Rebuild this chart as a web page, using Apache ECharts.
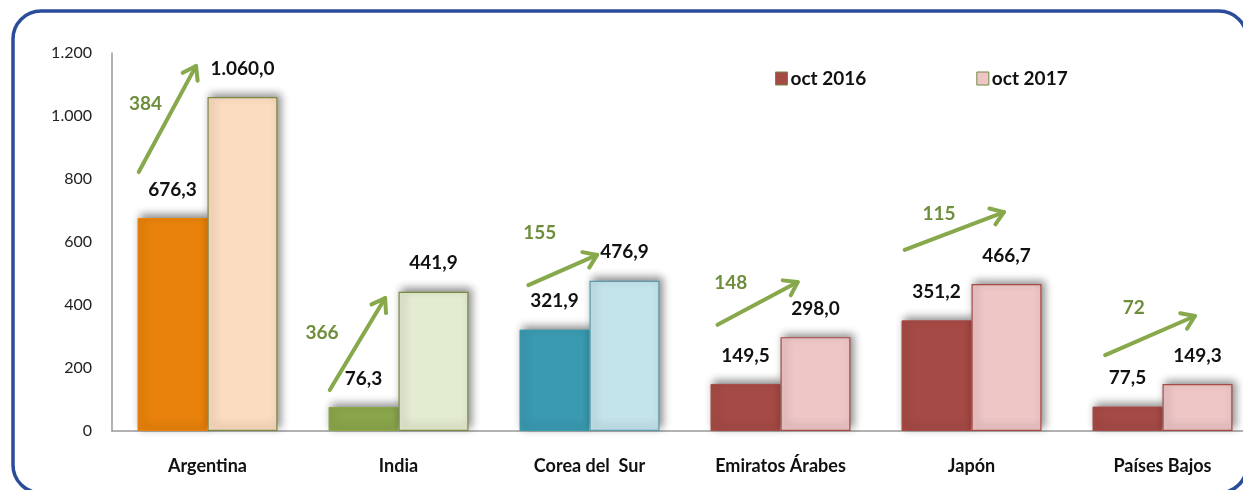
<!DOCTYPE html>
<html>
<head>
<meta charset="utf-8">
<script src="https://cdn.jsdelivr.net/npm/echarts@6/dist/echarts.min.js"></script>
<style>
  html, body { margin: 0; padding: 0; background: #fff; }
  #chart { width: 1243px; height: 490px; }
</style>
</head>
<body>
<div id="chart"></div>
<script>
// data
const categories = ["Argentina", "India", "Corea del  Sur", "Emiratos Árabes", "Japón", "Países Bajos"];
const oct2016 = [676.3, 76.3, 321.9, 149.5, 351.2, 77.5];
const oct2017 = [1060.0, 441.9, 476.9, 298.0, 466.7, 149.3];
const diffs = [384, 366, 155, 148, 115, 72];
const yTicks = [0, 200, 400, 600, 800, 1000, 1200];

// where the growth arrows sit, in axis values (start / end) and label
const arrowFromVal = [822, 130, 463, 337, 575, 241];
const arrowToVal = [1159, 422, 559, 473, 695, 365];
const arrowLabelVal = [1038, 311, 629, 470, 689, 390];

// x offsets of the arrows as a share of the category band
const arrowFromX = [-0.36, -0.36, -0.32, -0.33, -0.35, -0.30];
const arrowToX = [-0.06, -0.07, 0.04, 0.09, 0.17, 0.17];
const arrowLabelX = [-0.325, -0.40, -0.26, -0.26, -0.17, -0.15];

const colors2016 = ["#E8820C", "#8AA64B", "#3A9AB0", "#A64A45", "#A64A45", "#A64A45"];
const colors2017 = ["#FCDCC0", "#E3EBD0", "#C4E4EC", "#EEC6C6", "#EEC6C6", "#EEC6C6"];
const borders2017 = ["#7B8A45", "#7B8A45", "#5E9AAA", "#A64A45", "#A64A45", "#A64A45"];

function fmt(v, dec) {
  let s = v.toFixed(dec);
  let parts = s.split(".");
  parts[0] = parts[0].replace(/\B(?=(\d{3})+(?!\d))/g, ".");
  return parts.join(",");
}

const font = "Lato";
const shadow = {
  shadowColor: "rgba(0,0,0,0.45)",
  shadowBlur: 8,
  shadowOffsetX: 3,
  shadowOffsetY: -3
};

const chart = echarts.init(document.getElementById("chart"));

const option = {
  backgroundColor: "#fff",
  animation: false,
  textStyle: { fontFamily: font },
  graphic: [
    {
      type: "rect",
      shape: { x: 13, y: 11, width: 1234, height: 482, r: 28 },
      style: { fill: "none", stroke: "#2B4B9B", lineWidth: 3.5 },
      z: 100
    }
  ],
  legend: {
    data: ["oct 2016", "oct 2017"],
    left: 770,
    top: 64,
    itemWidth: 12,
    itemHeight: 13,
    itemGap: 110,
    icon: "rect",
    itemStyle: { borderColor: "#6F8A45", borderWidth: 1 },
    textStyle: { fontFamily: font, fontWeight: "bold", fontSize: 19, color: "#111", padding: [0, 0, 0, -2] }
  },
  grid: { left: 112, top: 53, width: 1146, height: 378, outerBoundsMode: "none" },
  xAxis: {
    type: "category",
    data: categories,
    axisLine: { lineStyle: { color: "#999", width: 1.5 } },
    axisTick: { show: false },
    axisLabel: { fontFamily: font, fontWeight: "bold", fontSize: 18, color: "#111", margin: 26 }
  },
  yAxis: {
    type: "value",
    min: yTicks[0],
    max: yTicks[yTicks.length - 1],
    interval: 200,
    splitLine: { show: false },
    axisLine: { show: true, lineStyle: { color: "#999", width: 1.5 } },
    axisTick: { show: false },
    axisLabel: {
      fontFamily: font,
      fontSize: 16,
      color: "#222",
      margin: 20,
      formatter: v => fmt(v, 0)
    }
  },
  series: [
    {
      name: "oct 2016",
      type: "bar",
      barWidth: 70,
      barGap: "0%",
      itemStyle: { color: "#A64A45", borderColor: "#7B8A45" },
      data: oct2016.map((v, i) => ({
        value: v,
        itemStyle: Object.assign({ color: colors2016[i], borderColor: colors2016[i], borderWidth: 1 }, shadow)
      })),
      label: {
        show: true,
        position: "top",
        distance: 19,
        fontFamily: font,
        fontWeight: "bold",
        fontSize: 19,
        color: "#111",
        formatter: p => fmt(p.value, 1)
      }
    },
    {
      name: "oct 2017",
      type: "bar",
      barWidth: 70,
      itemStyle: { color: "#EEC6C6", borderColor: "#7B8A45" },
      data: oct2017.map((v, i) => ({
        value: v,
        itemStyle: Object.assign({ color: colors2017[i], borderColor: borders2017[i], borderWidth: 1.2 }, shadow)
      })),
      label: {
        show: true,
        position: "top",
        distance: 19,
        fontFamily: font,
        fontWeight: "bold",
        fontSize: 19,
        color: "#111",
        formatter: p => fmt(p.value, 1)
      }
    },
    {
      name: "growth",
      type: "custom",
      z: 10,
      data: categories.map((c, i) => [i, arrowFromVal[i], arrowToVal[i], arrowLabelVal[i]]),
      renderItem: function (params, api) {
        const i = api.value(0);
        const band = api.size([1, 0])[0];
        const p0 = api.coord([i, api.value(1)]);
        const p1 = api.coord([i, api.value(2)]);
        const pl = api.coord([i, api.value(3)]);
        const x0 = p0[0] + arrowFromX[i] * band, y0 = p0[1];
        const x1 = p1[0] + arrowToX[i] * band, y1 = p1[1];
        const ang = Math.atan2(y1 - y0, x1 - x0);
        const head = 15, spread = 0.6;
        const h1 = [x1 - head * Math.cos(ang - spread), y1 - head * Math.sin(ang - spread)];
        const h2 = [x1 - head * Math.cos(ang + spread), y1 - head * Math.sin(ang + spread)];
        const stroke = { stroke: "#87A84B", lineWidth: 4, lineCap: "round", lineJoin: "round", fill: "none" };
        return {
          type: "group",
          children: [
            { type: "line", shape: { x1: x0, y1: y0, x2: x1, y2: y1 }, style: stroke },
            { type: "polyline", shape: { points: [h1, [x1, y1], h2] }, style: stroke },
            {
              type: "text",
              x: pl[0] + arrowLabelX[i] * band,
              y: pl[1],
              style: {
                text: String(diffs[i]),
                fontFamily: font,
                fontWeight: "bold",
                fontSize: 19,
                fill: "#6E8E3C",
                align: "center",
                verticalAlign: "middle"
              }
            }
          ]
        };
      }
    }
  ]
};

chart.setOption(option);
</script>
</body>
</html>
